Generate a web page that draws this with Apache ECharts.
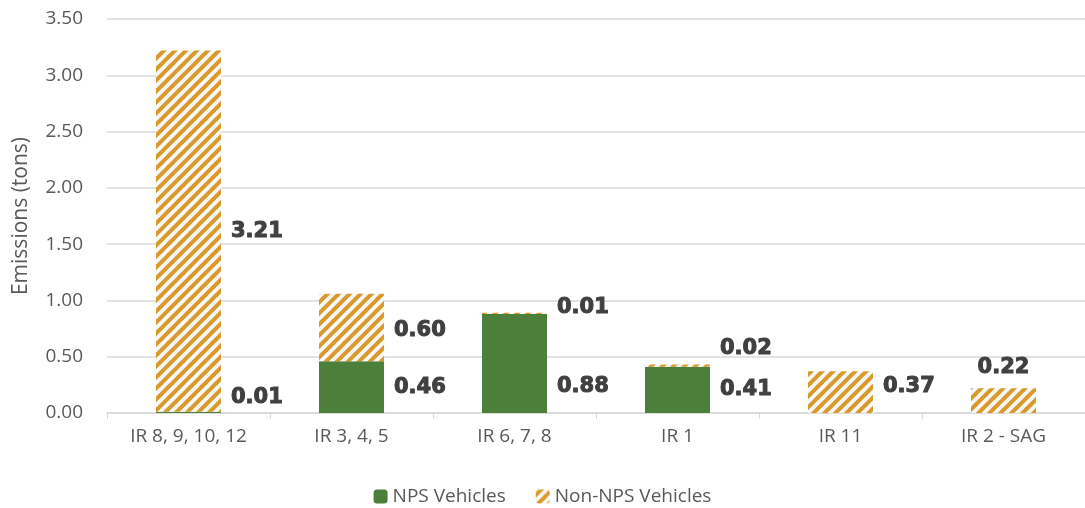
<!DOCTYPE html>
<html>
<head>
<meta charset="utf-8">
<script src="https://cdn.jsdelivr.net/npm/echarts@6/dist/echarts.min.js"></script>
<style>
  html, body { margin: 0; padding: 0; background: #fff; }
  #chart { width: 1085px; height: 508px; }
</style>
</head>
<body>
<div id="chart"></div>
<script>
const categories = ['IR 8, 9, 10, 12', 'IR 3, 4, 5', 'IR 6, 7, 8', 'IR 1', 'IR 11', 'IR 2 - SAG'];
const npsValues = [0.01, 0.46, 0.88, 0.41, null, null];
const nonNpsValues = [3.21, 0.60, 0.01, 0.02, 0.37, 0.22];
const yTicks = [0, 0.5, 1, 1.5, 2, 2.5, 3, 3.5];

// hand-placed label nudges, as in the original
const npsLabelShift = [[0, -15], [0, 0], [0, 23], [0, 0], [0, 0], [0, 0]];
const nonNpsLabelShift = [[0, 0], [0, 3], [0, -6], [0, -17], [0, -6], [0, 0]];

const green = '#4B7F3A';
const gold = '#D99A2A';

// diagonal white stripes on gold
function hatch() {
    const s = 11;
    const c = document.createElement('canvas');
    c.width = s; c.height = s;
    const ctx = c.getContext('2d');
    ctx.fillStyle = gold;
    ctx.fillRect(0, 0, s, s);
    ctx.strokeStyle = '#f7f7f7';
    ctx.lineWidth = 3.8;
    ctx.beginPath();
    for (let k = -1; k <= 1; k++) {
        ctx.moveTo(k * s - 1, s + 1);
        ctx.lineTo(k * s + s + 1, -1);
    }
    ctx.stroke();
    return c;
}

const labelBase = {
    show: true,
    position: 'right',
    distance: 10,
    fontFamily: 'DejaVu Sans',
    fontWeight: 'bold',
    fontSize: 21,
    color: '#404040',
    textBorderColor: '#404040',
    textBorderWidth: 1,
    formatter: p => p.value == null ? '' : p.value.toFixed(2)
};

const axisFont = { fontFamily: 'Open Sans', fontSize: 19, color: '#595959' };

const chart = echarts.init(document.getElementById('chart'));
chart.setOption({
    animation: false,
    grid: { left: 107, right: -12, top: 19, bottom: 95 },
    legend: {
        top: 482,
        left: 'center',
        itemWidth: 14,
        itemHeight: 14,
        itemGap: 30,
        textStyle: { fontFamily: 'Open Sans', fontSize: 19, color: '#595959' },
        data: ['NPS Vehicles', 'Non-NPS Vehicles']
    },
    xAxis: {
        type: 'category',
        data: categories,
        axisLine: { lineStyle: { color: '#D9D9D9', width: 1.5 } },
        axisTick: { show: true, length: 6, lineStyle: { color: '#D9D9D9' } },
        axisLabel: Object.assign({ margin: 14 }, axisFont)
    },
    yAxis: {
        type: 'value',
        min: yTicks[0],
        max: yTicks[yTicks.length - 1],
        interval: 0.5,
        name: 'Emissions (tons)',
        nameLocation: 'middle',
        nameGap: 75,
        nameTextStyle: { fontFamily: 'Open Sans', fontSize: 21, color: '#595959' },
        axisLine: { show: false },
        axisTick: { show: false },
        splitLine: { lineStyle: { color: '#D9D9D9', width: 1.5 } },
        axisLabel: Object.assign({ margin: 24, formatter: v => v.toFixed(2) }, axisFont)
    },
    series: [
        {
            name: 'NPS Vehicles',
            type: 'bar',
            stack: 'total',
            barWidth: 65,
            itemStyle: { color: green },
            label: labelBase,
            data: npsValues.map((v, i) => ({ value: v, label: { offset: npsLabelShift[i] } }))
        },
        {
            name: 'Non-NPS Vehicles',
            type: 'bar',
            stack: 'total',
            barWidth: 65,
            itemStyle: { color: { image: hatch(), repeat: 'repeat' } },
            label: labelBase,
            data: nonNpsValues.map((v, i) => {
                const item = { value: v, label: { offset: nonNpsLabelShift[i] } };
                if (i === 5) item.label.position = 'top';
                return item;
            })
        }
    ]
});
</script>
</body>
</html>
